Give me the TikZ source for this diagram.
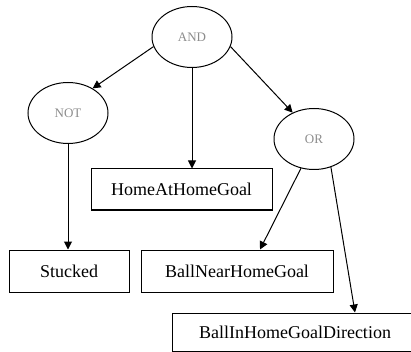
\documentclass[tikz,border=0pt]{standalone}
\usepackage{fontspec}
\setmainfont{Liberation Serif}
\usetikzlibrary{shapes.geometric,arrows.meta}
\begin{document}
\begin{tikzpicture}[x=1pt,y=-1pt,
  gate/.style={ellipse,draw=black,line width=1pt,minimum width=80pt,minimum height=61pt,inner sep=0pt,
    font=\fontsize{13}{15}\selectfont,text=black!45},
  leaf/.style={rectangle,draw=black,line width=1pt,inner sep=0pt,font=\fontsize{18}{20}\selectfont,text=black},
  conn/.style={line width=1pt,-{Triangle[length=8pt,width=8pt]}}]
\useasboundingbox (0,0) rectangle (411,352);
\node[gate] (and) at (192,37) {AND};
\node[gate] (not) at (68,113) {NOT};
\node[gate] (or) at (314,139) {OR};
\node[leaf,minimum width=181pt,minimum height=41pt] (hahg) at (181.5,189.5) {HomeAtHomeGoal};
\node[leaf,minimum width=120pt,minimum height=42pt] (stuck) at (69,271) {Stucked};
\node[leaf,minimum width=192pt,minimum height=42pt] (bnhg) at (237,271) {BallNearHomeGoal};
\node[leaf,minimum width=246pt,minimum height=38pt] (bihgd) at (295,332) {BallInHomeGoalDirection};
\draw[conn] (and.194) -- (not.45);
\draw[conn] (and.south) -- (and.south |- hahg.north);
\draw[conn] (and.346) -- (or.129);
\draw[conn] (not.south) -- (not.south |- stuck.north);
\draw[conn] (or.246) -- ([xshift=23pt]bnhg.north);
\draw[conn] (or.301) -- ([xshift=60pt]bihgd.north);
\end{tikzpicture}
\end{document}
